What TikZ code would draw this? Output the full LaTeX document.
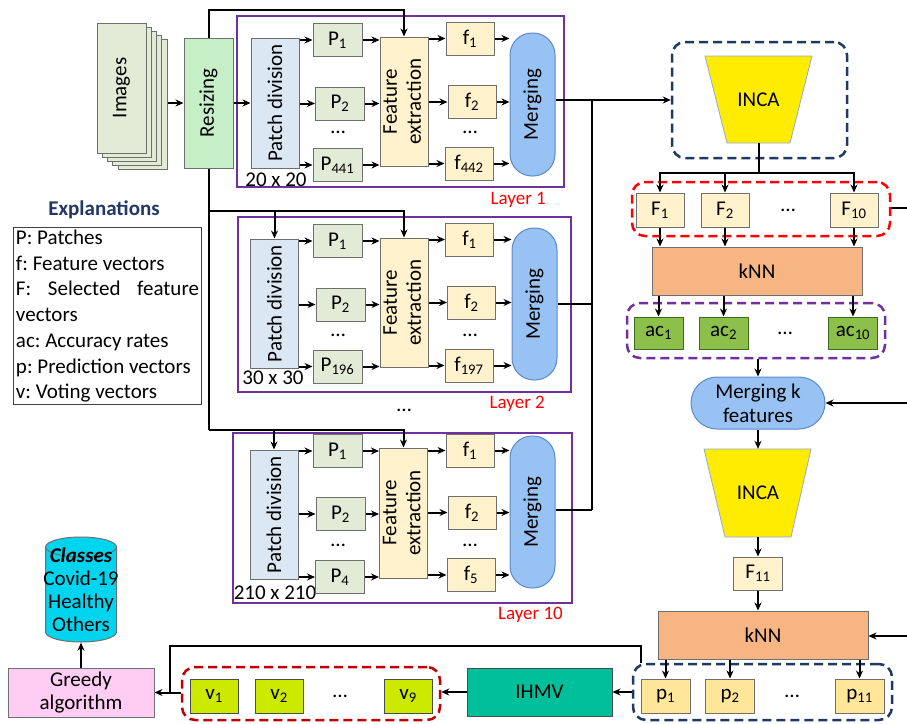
\documentclass[tikz,border=0pt]{standalone}
\usepackage{fontspec}
\setmainfont{Carlito}
\usetikzlibrary{arrows.meta}

\definecolor{imggreen}{HTML}{E2EBD5}
\definecolor{resizegreen}{HTML}{C6EFC8}
\definecolor{patchblue}{HTML}{DCE7F4}
\definecolor{featbeige}{HTML}{FFF2CC}
\definecolor{mergeblue}{HTML}{98C2F4}
\definecolor{mergeedge}{HTML}{5B8ACB}
\definecolor{layerpurple}{HTML}{7030A0}
\definecolor{incayellow}{HTML}{FFEC00}
\definecolor{incaedge}{HTML}{8FAADC}
\definecolor{navy}{HTML}{1F3864}
\definecolor{knnorange}{HTML}{F8B584}
\definecolor{acgreen}{HTML}{8DC04B}
\definecolor{acedge}{HTML}{3C6A1E}
\definecolor{predyellow}{HTML}{FFE699}
\definecolor{ihmvteal}{HTML}{00BF9B}
\definecolor{votelime}{HTML}{CCEA00}
\definecolor{greedypink}{HTML}{FFCCF4}
\definecolor{classcyan}{HTML}{00D4EE}
\definecolor{darkred}{HTML}{C00000}
\definecolor{boxedge}{HTML}{6F6F6F}

\newcommand{\boxfont}{\fontsize{21}{24}\selectfont}

\tikzset{
  >={Stealth[length=8pt,width=7pt]},
  blk/.style={draw=boxedge,line width=1pt,inner sep=0pt,font=\boxfont},
  pbox/.style={blk,fill=imggreen,minimum width=49,minimum height=33},
  fbox/.style={blk,fill=featbeige,minimum width=48,minimum height=33},
  pdbox/.style={blk,fill=patchblue,minimum width=48,minimum height=130},
  febox/.style={blk,fill=featbeige,minimum width=48,minimum height=129},
  mergebox/.style={draw=mergeedge,fill=mergeblue,line width=1pt,rounded corners=22pt,minimum width=45,minimum height=152,inner sep=0pt,font=\boxfont},
  layerbox/.style={draw=layerpurple,line width=2.2pt},
  layerlabel/.style={anchor=east,text=red,inner sep=0pt,font=\fontsize{19}{22}\selectfont},
  sizelabel/.style={inner sep=0pt,font=\boxfont},
  dotlabel/.style={inner sep=0pt,font=\boxfont},
  incafill/.style={draw=incaedge,fill=incayellow,line width=0.8pt},
  incatext/.style={inner sep=0pt,minimum width=107,minimum height=87,font=\boxfont},
  grpbox/.style={line width=2.5pt,dash pattern=on 9pt off 5pt,rounded corners=13pt,inner sep=0pt,minimum width=258,minimum height=54},
  knnbox/.style={blk,fill=knnorange,minimum width=210,minimum height=48},
  wire/.style={line width=2pt},
  arr/.style={wire,->},
}

\begin{document}
\begin{tikzpicture}[x=1pt,y=-1pt]
        \useasboundingbox (0,0) rectangle (907,723);
        % Input images and resizing
        \node[blk,fill=imggreen,minimum width=49,minimum height=130] (img5) at (142.5,104) {};
        \node[blk,fill=imggreen,minimum width=49,minimum height=130] (img4) at (137.25,100) {};
        \node[blk,fill=imggreen,minimum width=49,minimum height=130] (img3) at (132,96) {};
        \node[blk,fill=imggreen,minimum width=49,minimum height=130] (img2) at (126.75,92) {};
        \node[blk,fill=imggreen,minimum width=49,minimum height=130] (img1) at (121.5,88) {\rotatebox{90}{Images}};
        \node[blk,fill=resizegreen,minimum width=49,minimum height=130] (resize) at (208.5,103) {\rotatebox{90}{Resizing}};
        \draw[arr] (img5.east |- resize) -- (resize.west);
        \coordinate (br2) at (208.5,211);
        \coordinate (br10) at (208.5,430);
        \draw[wire] (resize.south) -- (br10);
        % Layer 1
        \draw[layerbox] (237,16) rectangle (564,187);
        \node[layerlabel] (lab1) at (546,200) {Layer 1};
        \node[pdbox] (pd1) at (275,103) {\rotatebox{90}{Patch division}};
        \node[sizelabel] (sz1) at (276,180) {20 x 20};
        \node[pbox] (pa1) at (337.5,40) {P\textsubscript{1}};
        \node[pbox] (pa2) at (340,103.5) {P\textsubscript{2}};
        \node[dotlabel] (pdots1) at (338,132) {…};
        \node[pbox] (pa441) at (337.5,165) {P\textsubscript{441}};
        \node[febox] (fe1) at (404,101.5) {\rotatebox{90}{\begin{tabular}{@{}c@{}}Feature\\extraction\end{tabular}}};
        \node[fbox] (fa1) at (470,38.5) {f\textsubscript{1}};
        \node[fbox] (fa2) at (472,102) {f\textsubscript{2}};
        \node[dotlabel] (fdots1) at (470,132) {…};
        \node[fbox] (fa442) at (469,163.5) {f\textsubscript{442}};
        \node[mergebox,minimum height=143] (mg1) at (532.5,104.5) {\rotatebox{90}{Merging}};
        \draw[arr] (resize) -- (pd1);
        \draw[arr] (resize.north) -- ++(0,-28) -| (fe1.north);
        \draw[arr] (pd1.east |- pa1) -- (pa1);
        \draw[arr] (pd1.east |- pa2) -- (pa2);
        \draw[arr] (pd1.east |- pa441) -- (pa441);
        \draw[arr] (pa1) -- (pa1 -| fe1.west);
        \draw[arr] (pa2) -- (pa2 -| fe1.west);
        \draw[arr] (pa441) -- (pa441 -| fe1.west);
        \draw[arr] (fe1.east |- fa1) -- (fa1);
        \draw[arr] (fe1.east |- fa2) -- (fa2);
        \draw[arr] (fe1.east |- fa442) -- (fa442);
        \draw[arr] (fa1) -- (fa1 -| mg1.west);
        \draw[arr] (fa2) -- (fa2 -| mg1.west);
        \draw[arr] (fa442) -- (fa442 -| mg1.west);
        % Layer 2
        \draw[layerbox] (238,217) rectangle (571,392);
        \node[layerlabel] (lab2) at (545,404) {Layer 2};
        \node[pdbox,minimum height=129] (pd2) at (274.5,303.5) {\rotatebox{90}{Patch division}};
        \node[sizelabel] (sz2) at (273,378) {30 x 30};
        \node[pbox] (pb1) at (337.5,241) {P\textsubscript{1}};
        \node[pbox] (pb2) at (340.5,304.5) {P\textsubscript{2}};
        \node[dotlabel] (pdots2) at (338,335) {…};
        \node[pbox] (pb196) at (337.5,366.5) {P\textsubscript{196}};
        \node[febox] (fe2) at (404,302.5) {\rotatebox{90}{\begin{tabular}{@{}c@{}}Feature\\extraction\end{tabular}}};
        \node[fbox] (fb1) at (469.5,239.5) {f\textsubscript{1}};
        \node[fbox] (fb2) at (471.5,302.5) {f\textsubscript{2}};
        \node[dotlabel] (fdots2) at (470,335) {…};
        \node[fbox] (fb197) at (469,365.5) {f\textsubscript{197}};
        \node[mergebox] (mg2) at (534.5,304) {\rotatebox{90}{Merging}};
        \draw[arr] (br2) -| (pd2.north);
        \draw[arr] (br2) -| (fe2.north);
        \draw[arr] (pd2.east |- pb1) -- (pb1);
        \draw[arr] (pd2.east |- pb2) -- (pb2);
        \draw[arr] (pd2.east |- pb196) -- (pb196);
        \draw[arr] (pb1) -- (pb1 -| fe2.west);
        \draw[arr] (pb2) -- (pb2 -| fe2.west);
        \draw[arr] (pb196) -- (pb196 -| fe2.west);
        \draw[arr] (fe2.east |- fb1) -- (fb1);
        \draw[arr] (fe2.east |- fb2) -- (fb2);
        \draw[arr] (fe2.east |- fb197) -- (fb197);
        \draw[arr] (fb1) -- (fb1 -| mg2.west);
        \draw[arr] (fb2) -- (fb2 -| mg2.west);
        \draw[arr] (fb197) -- (fb197 -| mg2.west);
        \node[dotlabel] (ldots) at (404,410) {…};
        % Layer 10
        \draw[layerbox] (233,433) rectangle (572,603);
        \node[layerlabel] (lab10) at (563,615) {Layer 10};
        \node[pdbox,minimum height=129] (pd10) at (274,514.5) {\rotatebox{90}{Patch division}};
        \node[sizelabel] (sz10) at (275,593) {210 x 210};
        \node[pbox] (pc1) at (337.5,451) {P\textsubscript{1}};
        \node[pbox] (pc2) at (340.5,514) {P\textsubscript{2}};
        \node[dotlabel] (pdots10) at (338,545) {…};
        \node[pbox] (pc4) at (340,577) {P\textsubscript{4}};
        \node[febox,minimum height=130] (fe10) at (403.5,513) {\rotatebox{90}{\begin{tabular}{@{}c@{}}Feature\\extraction\end{tabular}}};
        \node[fbox] (fc1) at (470,450.5) {f\textsubscript{1}};
        \node[fbox] (fc2) at (472,512.5) {f\textsubscript{2}};
        \node[dotlabel] (fdots10) at (470,545) {…};
        \node[fbox] (fc5) at (471,575) {f\textsubscript{5}};
        \node[mergebox] (mg10) at (532.5,512) {\rotatebox{90}{Merging}};
        \draw[arr] (br10) -| (pd10.north);
        \draw[arr] (br10) -| (fe10.north);
        \draw[arr] (pd10.east |- pc1) -- (pc1);
        \draw[arr] (pd10.east |- pc2) -- (pc2);
        \draw[arr] (pd10.east |- pc4) -- (pc4);
        \draw[arr] (pc1) -- (pc1 -| fe10.west);
        \draw[arr] (pc2) -- (pc2 -| fe10.west);
        \draw[arr] (pc4) -- (pc4 -| fe10.west);
        \draw[arr] (fe10.east |- fc1) -- (fc1);
        \draw[arr] (fe10.east |- fc2) -- (fc2);
        \draw[arr] (fe10.east |- fc5) -- (fc5);
        \draw[arr] (fc1) -- (fc1 -| mg10.west);
        \draw[arr] (fc2) -- (fc2 -| mg10.west);
        \draw[arr] (fc5) -- (fc5 -| mg10.west);
        % Explanations
        \node[inner sep=0pt,text=navy,font=\fontsize{21}{24}\selectfont\bfseries] (expltitle) at (104,210) {Explanations};
        \node[draw=black!75,line width=1pt,anchor=north west,text width=183,align=justify,inner sep=2.5pt,font=\fontsize{21}{25.7}\selectfont\frenchspacing] (expl) at (13,227)
            {P: Patches\\ f: Feature vectors\\ F: Selected feature vectors\\ ac: Accuracy rates\\ p: Prediction vectors\\ v: Voting vectors};
        % Merging outputs into INCA
        \coordinate (trunk) at (592,100);
        \coordinate (trunkend) at (592,510);
        \node[grpbox,draw=navy,minimum width=175,minimum height=116] (incagroup) at (759.5,100) {};
        \filldraw[incafill] (705,56) -- (812,56) -- (790,143) -- (727,143) -- cycle;
        \node[incatext] (inca1) at (758.5,99.5) {INCA};
        \draw[arr] (mg1.east |- trunk) -- (trunk) -- (trunk -| incagroup.west);
        \draw[wire] (trunk) -- (trunkend);
        \draw[wire] (mg2.east) -- (mg2.east -| trunk);
        \draw[wire] (mg10.east |- trunkend) -- (trunkend);
        % Selected features and kNN
        \coordinate (fsplit) at (758.5,173);
        \node[grpbox,draw=red] (selgroup) at (761,209) {};
        \node[blk,fill=featbeige,minimum width=48,minimum height=34] (sf1) at (660,210) {F\textsubscript{1}};
        \node[blk,fill=featbeige,minimum width=48,minimum height=34] (sf2) at (725,210) {F\textsubscript{2}};
        \node[dotlabel] (sfdots) at (788,210) {…};
        \node[blk,fill=featbeige,minimum width=48,minimum height=34] (sf10) at (854,210) {F\textsubscript{10}};
        \coordinate (selout) at (907,208);
        \draw[wire] (selgroup.east |- selout) -- (selout);
        \draw[wire] (inca1) -- (fsplit);
        \draw[arr] (fsplit) -| (sf1.north);
        \draw[arr] (fsplit) -| (sf2.north);
        \draw[arr] (fsplit) -| (sf10.north);
        \node[knnbox] (knn1) at (757,271) {kNN};
        \draw[arr] (sf1) -- (sf1 |- knn1.north);
        \draw[arr] (sf2) -- (sf2 |- knn1.north);
        \draw[arr] (sf10) -- (sf10 |- knn1.north);
        % Accuracy rates
        \node[grpbox,draw=layerpurple,minimum height=55] (acgroup) at (756,330.5) {};
        \node[blk,draw=acedge,fill=acgreen,minimum width=49,minimum height=32] (ac1) at (658.5,333) {ac\textsubscript{1}};
        \node[blk,draw=acedge,fill=acgreen,minimum width=49,minimum height=32] (ac2) at (723.5,333) {ac\textsubscript{2}};
        \node[dotlabel] (acdots) at (785,333) {…};
        \node[blk,draw=acedge,fill=acgreen,minimum width=49,minimum height=32] (ac10) at (853,333) {ac\textsubscript{10}};
        \draw[arr] (knn1.south -| ac1) -- (ac1);
        \draw[arr] (knn1.south -| ac2) -- (ac2);
        \draw[arr] (knn1.south -| ac10) -- (ac10);
        % Second selection
        \node[draw=mergeedge,fill=mergeblue,line width=1pt,rounded corners=26pt,minimum width=134,minimum height=52,inner sep=0pt,align=center,font=\boxfont] (mergek) at (758,403) {Merging k\\features};
        \coordinate (mkin) at (907,403);
        \draw[arr] (acgroup.south -| mergek) -- (mergek);
        \draw[arr] (mkin) -- (mergek.east);
        \filldraw[incafill] (704,449) -- (811,449) -- (791,537) -- (725,537) -- cycle;
        \node[incatext,minimum height=88] (inca2) at (758,493) {INCA};
        \draw[arr] (mergek) -- (inca2);
        \node[blk,fill=featbeige,minimum width=49,minimum height=33] (sf11) at (758,573.5) {F\textsubscript{11}};
        \draw[arr] (inca2) -- (sf11);
        \node[knnbox] (knn2) at (763,635) {kNN};
        \coordinate (knnin) at (907,636);
        \draw[arr] (sf11) -- (sf11 |- knn2.north);
        \draw[arr] (knnin) -- (knn2.east |- knnin);
        % Prediction vectors
        \node[grpbox,draw=navy,minimum width=259,minimum height=56] (predgroup) at (762.5,692) {};
        \node[blk,fill=predyellow,minimum width=49,minimum height=34] (pr1) at (665.5,696) {p\textsubscript{1}};
        \node[blk,fill=predyellow,minimum width=49,minimum height=34] (pr2) at (730,696) {p\textsubscript{2}};
        \node[dotlabel] (prdots) at (792,696) {…};
        \node[blk,fill=predyellow,minimum width=49,minimum height=34] (pr11) at (859.5,696) {p\textsubscript{11}};
        \draw[arr] (knn2.south -| pr1) -- (pr1);
        \draw[arr] (knn2.south -| pr2) -- (pr2);
        \draw[arr] (knn2.south -| pr11) -- (pr11);
        % Voting and greedy selection
        \node[blk,draw=black!70,fill=ihmvteal,minimum width=145,minimum height=48] (ihmv) at (539.5,692) {IHMV};
        \node[grpbox,draw=darkred,minimum height=53] (votegroup) at (311,693.5) {};
        \node[blk,draw=black!70,fill=votelime,minimum width=48,minimum height=34] (vt1) at (214,696) {v\textsubscript{1}};
        \node[blk,draw=black!70,fill=votelime,minimum width=48,minimum height=34] (vt2) at (279,696) {v\textsubscript{2}};
        \node[dotlabel] (vtdots) at (340,696) {…};
        \node[blk,draw=black!70,fill=votelime,minimum width=48,minimum height=34] (vt9) at (408,696) {v\textsubscript{9}};
        \node[blk,fill=greedypink,minimum width=146,minimum height=49,align=center,font=\fontsize{21}{23}\selectfont] (greedy) at (81,692.5) {Greedy\\algorithm};
        \coordinate (pjoin) at (170,646);
        \draw[arr] (predgroup.west) -- (ihmv.east);
        \draw[arr] (ihmv.west) -- (ihmv.west -| votegroup.east);
        \draw[arr] (votegroup.west |- greedy) -- (greedy.east);
        \draw[wire] (predgroup.north -| pr1.west) |- (pjoin) -- (pjoin |- greedy);
        % Classes
        \filldraw[fill=classcyan,draw=boxedge,line width=1pt] (45.5,632) -- (45.5,547) arc[start angle=180,end angle=0,x radius=35.5pt,y radius=10pt] -- (116.5,632) arc[start angle=0,end angle=-180,x radius=35.5pt,y radius=10pt] -- cycle;
        \draw[boxedge,line width=1pt] (45.5,547) arc[start angle=180,end angle=360,x radius=35.5pt,y radius=10pt];
        \node[inner sep=0pt,minimum height=105,align=center,font=\fontsize{21}{23}\selectfont] (classes) at (81,590) {\textbf{\textit{Classes}}\\Covid-19\\Healthy\\Others};
        \draw[arr] (greedy) -- (classes.south);
    \end{tikzpicture}
\end{document}
